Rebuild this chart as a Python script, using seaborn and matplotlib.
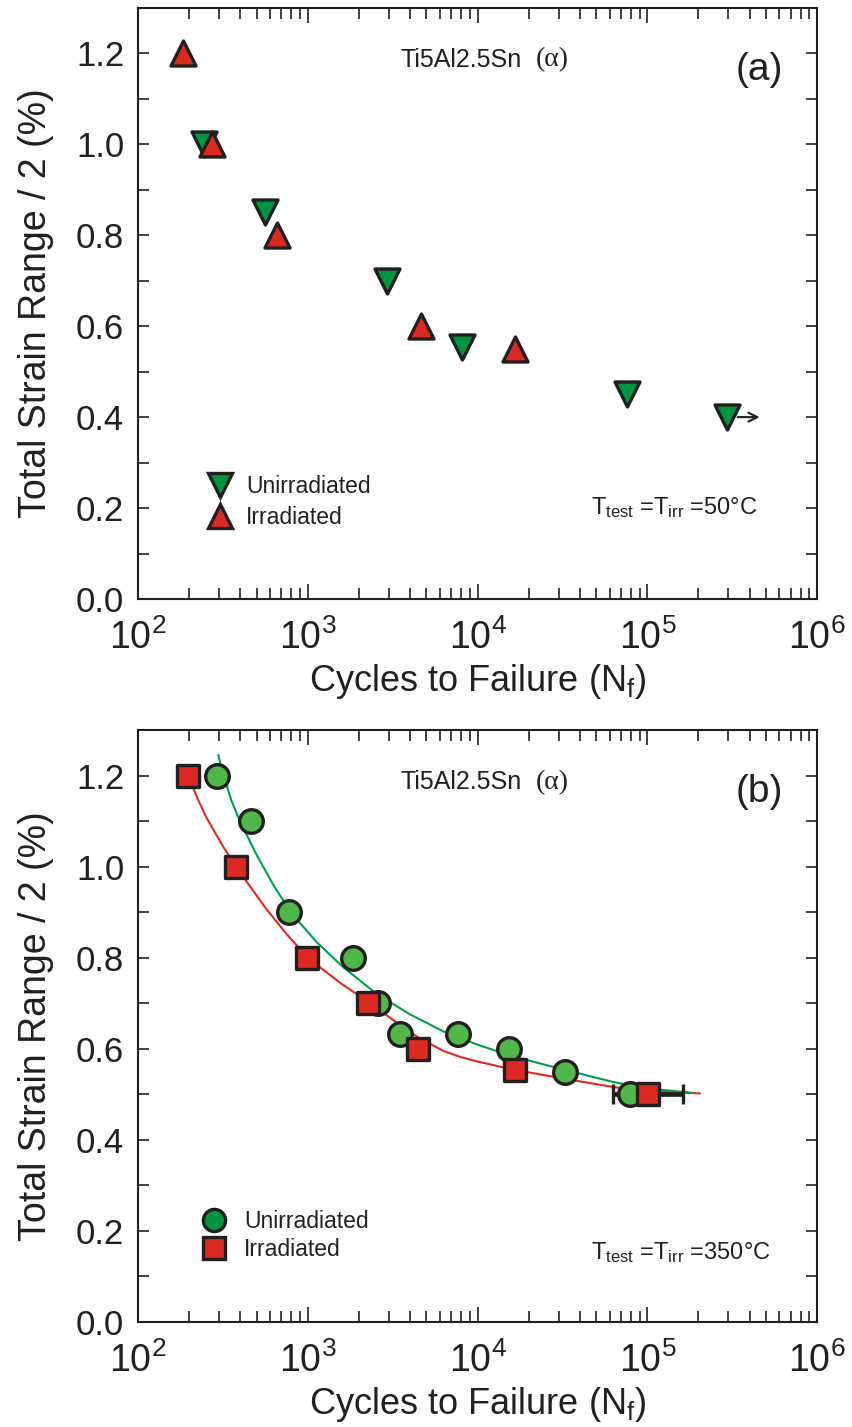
import numpy as np
import matplotlib
matplotlib.use("Agg")
import matplotlib.pyplot as plt
from matplotlib.lines import Line2D
from matplotlib.ticker import (
    FixedLocator,
    FixedFormatter,
    LogLocator,
    MultipleLocator,
    NullFormatter,
    FormatStrFormatter
)
import seaborn as sns

# ==============================
# Data
# ==============================
# Panel (a): T_test = T_irr = 50 C
a_unirr_N = [244, 562, 2920, 8090, 76200, 296000]
a_unirr_strain = [1.00, 0.85, 0.70, 0.555, 0.45, 0.40]
a_irr_N = [185, 272, 662, 4660, 16600]
a_irr_strain = [1.20, 1.00, 0.80, 0.60, 0.55]

# Panel (b): T_test = T_irr = 350 C
b_unirr_N = [292, 466, 771, 1854, 2588, 3510, 7620, 15280, 32950, 79400]
b_unirr_strain = [1.20, 1.10, 0.90, 0.80, 0.70, 0.633, 0.633, 0.60, 0.55, 0.50]
b_irr_N = [197, 380, 993, 2265, 4470, 16700, 101000]
b_irr_strain = [1.20, 1.00, 0.80, 0.70, 0.60, 0.553, 0.50]
b_irr_err_low = 38000
b_irr_err_high = 61000

# Fitted curves in panel (b)
fit_unirr_N = [297, 316, 355, 398, 501, 631, 794, 1122, 1585, 2512,
               3981, 6310, 10000, 15850, 31620, 63100, 100000, 186200]
fit_unirr_strain = [1.245, 1.205, 1.145, 1.100, 1.025, 0.958, 0.900, 0.835,
                    0.782, 0.722, 0.676, 0.638, 0.609, 0.584, 0.555, 0.527,
                    0.513, 0.503]
fit_irr_N = [197, 224, 251, 316, 398, 562, 750, 1000, 1549, 2265, 3162,
             4467, 6310, 7943, 10000, 15850, 31620, 63100, 100000, 204200]
fit_irr_strain = [1.200, 1.150, 1.110, 1.045, 0.988, 0.910, 0.852, 0.800,
                  0.745, 0.703, 0.664, 0.625, 0.595, 0.582, 0.572, 0.555,
                  0.535, 0.516, 0.507, 0.502]

x_ticks = [1e2, 1e3, 1e4, 1e5, 1e6]
x_tick_labels = [r"$\mathregular{10^{%d}}$" % p for p in range(2, 7)]

# colours
INK = "#231f20"
GREEN_DARK = "#00963f"
GREEN_LIGHT = "#50b848"
RED = "#dc2a22"
LINE_GREEN = "#00a04b"
LINE_RED = "#e8281e"

sns.set_style("ticks")
plt.rcParams["font.family"] = ["Liberation Sans", "DejaVu Sans"]
plt.rcParams["mathtext.fontset"] = "custom"
plt.rcParams["mathtext.rm"] = "Liberation Sans"
plt.rcParams["mathtext.it"] = "Liberation Sans:italic"
plt.rcParams["mathtext.bf"] = "Liberation Sans:bold"
plt.rcParams["text.color"] = INK
plt.rcParams["axes.labelcolor"] = INK


def style_axes(ax):
    ax.set_xscale("log")
    ax.set_xlim(1e2, 1e6)
    ax.set_ylim(0, 1.3)

    ax.xaxis.set_major_locator(FixedLocator(x_ticks))
    ax.xaxis.set_major_formatter(FixedFormatter(x_tick_labels))
    ax.xaxis.set_minor_locator(LogLocator(base=10, subs=np.arange(2, 10)))
    ax.xaxis.set_minor_formatter(NullFormatter())
    ax.yaxis.set_major_locator(MultipleLocator(0.2))
    ax.yaxis.set_minor_locator(MultipleLocator(0.1))
    ax.yaxis.set_major_formatter(FormatStrFormatter("%.1f"))

    ax.tick_params(which="both", direction="in", top=True, right=True,
                   width=1.2, color=INK, labelcolor=INK)
    ax.tick_params(axis="x", which="major", length=11, labelsize=27, pad=15)
    ax.tick_params(axis="x", which="minor", length=8)
    ax.tick_params(axis="y", which="both", length=8, labelsize=25, pad=10)

    for spine in ax.spines.values():
        spine.set_linewidth(1.5)
        spine.set_color(INK)

    ax.set_xlabel(r"Cycles to Failure (N$_\mathregular{f}$)",
                  fontsize=26, labelpad=3)
    ax.set_ylabel("Total Strain Range / 2 (%)", fontsize=27, labelpad=16)


def add_title(ax, tag, temp):
    ax.text(0.565, 0.912, "Ti5Al2.5Sn", transform=ax.transAxes,
            ha="right", va="center", fontsize=18)
    ax.text(0.586, 0.912, "(\u03b1)", transform=ax.transAxes,
            ha="left", va="center", fontsize=20,
            family=["Liberation Serif", "DejaVu Serif"])
    ax.text(0.915, 0.895, tag, transform=ax.transAxes,
            ha="center", va="center", fontsize=28)
    ax.text(0.667, temp[1], temp[0], transform=ax.transAxes,
            ha="left", va="center", fontsize=17)


fig = plt.figure(figsize=(8.52, 14.27), dpi=100)
ax_a = fig.add_axes([0.162, 0.5802, 0.797, 0.4144])
ax_b = fig.add_axes([0.162, 0.0736, 0.797, 0.4148])

# ==============================
# Panel (a)
# ==============================
sns.scatterplot(x=a_unirr_N, y=a_unirr_strain, ax=ax_a, marker="v",
                s=18 ** 2, color=GREEN_DARK, edgecolor=INK, linewidth=2.4,
                zorder=3, legend=False)
sns.scatterplot(x=a_irr_N, y=a_irr_strain, ax=ax_a, marker="^",
                s=18 ** 2, color=RED, edgecolor=INK, linewidth=2.4,
                zorder=4, legend=False)

# run-out arrow on the last unirradiated specimen
ax_a.annotate("", xy=(a_unirr_N[-1] * 1.55, a_unirr_strain[-1]),
              xytext=(a_unirr_N[-1] * 1.15, a_unirr_strain[-1]),
              arrowprops=dict(arrowstyle="->", color=INK, lw=1.5,
                              shrinkA=0, shrinkB=0, mutation_scale=16))

style_axes(ax_a)
add_title(ax_a, "(a)",
          (r"T$_\mathregular{test}$ =T$_\mathregular{irr}$ =50°C", 0.154))

handles_a = [
    Line2D([], [], marker="v", linestyle="none", markersize=17,
           markerfacecolor=GREEN_DARK, markeredgecolor=INK,
           markeredgewidth=2.4),
    Line2D([], [], marker="^", linestyle="none", markersize=17,
           markerfacecolor=RED, markeredgecolor=INK, markeredgewidth=2.4),
]
ax_a.legend(handles_a, ["Unirradiated", "Irradiated"], loc="lower left",
            bbox_to_anchor=(0.1075, 0.118), frameon=False, fontsize=16.5,
            handlelength=0.8, handletextpad=0.72, labelspacing=0.37,
            borderpad=0, borderaxespad=0)

# ==============================
# Panel (b)
# ==============================
sns.lineplot(x=fit_unirr_N, y=fit_unirr_strain, ax=ax_b, color=LINE_GREEN,
             lw=1.5, sort=False, zorder=1.5)
sns.lineplot(x=fit_irr_N, y=fit_irr_strain, ax=ax_b, color=LINE_RED,
             lw=1.5, sort=False, zorder=1.4)

ax_b.errorbar(b_irr_N[-1], b_irr_strain[-1],
              xerr=[[b_irr_err_low], [b_irr_err_high]], fmt="none",
              ecolor=INK, elinewidth=3.4, capsize=7.5, capthick=2.4,
              zorder=2.5)

sns.scatterplot(x=b_unirr_N, y=b_unirr_strain, ax=ax_b, marker="o",
                s=17 ** 2, color=GREEN_LIGHT, edgecolor=INK, linewidth=2.4,
                zorder=3, legend=False)
sns.scatterplot(x=b_irr_N, y=b_irr_strain, ax=ax_b, marker="s",
                s=16 ** 2, color=RED, edgecolor=INK, linewidth=2.4,
                zorder=4, legend=False)

style_axes(ax_b)
add_title(ax_b, "(b)",
          (r"T$_\mathregular{test}$ =T$_\mathregular{irr}$ =350°C", 0.117))

handles_b = [
    Line2D([], [], marker="o", linestyle="none", markersize=16,
           markerfacecolor=GREEN_DARK, markeredgecolor=INK,
           markeredgewidth=2.4),
    Line2D([], [], marker="s", linestyle="none", markersize=15.5,
           markerfacecolor=RED, markeredgecolor=INK, markeredgewidth=2.4),
]
ax_b.legend(handles_b, ["Unirradiated", "Irradiated"], loc="lower left",
            bbox_to_anchor=(0.0987, 0.103), frameon=False, fontsize=16.5,
            handlelength=0.8, handletextpad=0.9, labelspacing=0.23,
            borderpad=0, borderaxespad=0)

fig.savefig("out.png", dpi=100)
plt.close(fig)
